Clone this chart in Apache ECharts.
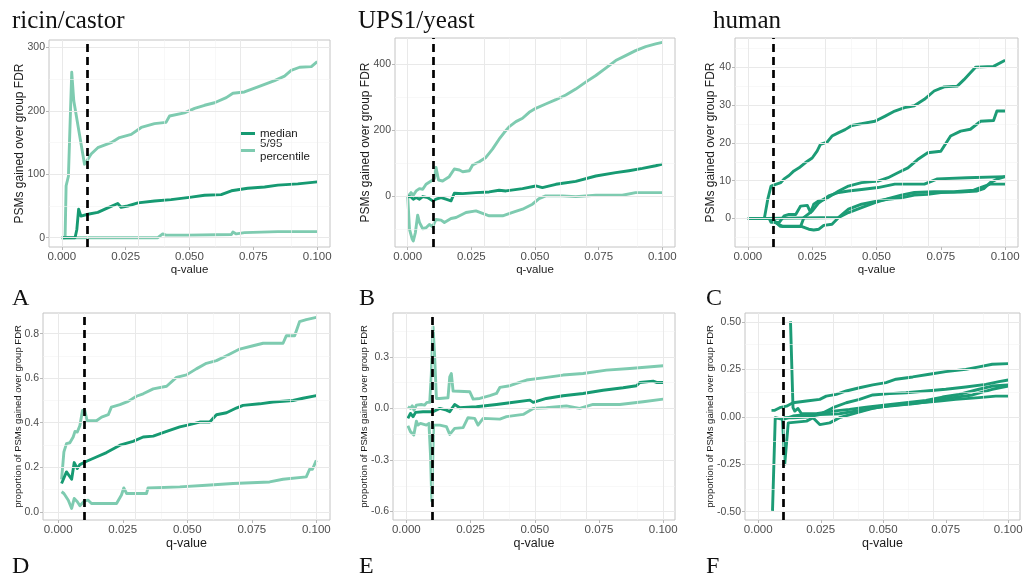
<!DOCTYPE html>
<html>
<head>
<meta charset="utf-8">
<script src="https://cdn.jsdelivr.net/npm/echarts@6/dist/echarts.min.js"></script>
<style>
  html, body { margin: 0; padding: 0; background: #fff; }
  #chart { width: 1025px; height: 578px; }
</style>
</head>
<body>
<div id="chart"></div>
<script>
// ---- axis ticks ----
const qTicks = [0, 0.025, 0.05, 0.075, 0.1];
const qMinor = [0.0125, 0.0375, 0.0625, 0.0875];
const ricinCountTicks = [0, 100, 200, 300];
const ricinCountMinor = [50, 150, 250];
const upsCountTicks = [0, 200, 400];
const upsCountMinor = [-100, 100, 300];
const humanCountTicks = [0, 10, 20, 30, 40];
const humanCountMinor = [-5, 5, 15, 25, 35, 45];
const ricinPropTicks = [0, 0.2, 0.4, 0.6, 0.8];
const ricinPropMinor = [0.1, 0.3, 0.5, 0.7];
const upsPropTicks = [-0.6, -0.3, 0, 0.3];
const upsPropMinor = [-0.45, -0.15, 0.15, 0.45];
const humanPropTicks = [-0.5, -0.25, 0, 0.25, 0.5];
const humanPropMinor = [-0.375, -0.125, 0.125, 0.375];
const fdrCutoff = 0.01;

// ---- A: ricin/castor, PSMs gained ----
const ricinP95 = [[0,0],[0.0013,0],[0.0017,82],[0.0026,97],[0.0039,261],[0.0047,216],[0.0089,116],[0.0098,121],[0.0115,132],[0.0141,142],[0.0193,150],[0.0226,158],[0.0272,163],[0.0311,174],[0.0363,180],[0.0408,182],[0.0422,192],[0.048,197],[0.052,204],[0.0559,209],[0.0598,213],[0.0644,221],[0.067,228],[0.0715,230],[0.0768,238],[0.0833,248],[0.0872,255],[0.0898,264],[0.0931,269],[0.0977,270],[0.1,278]];
const ricinMedian = [[0,0],[0.0052,0],[0.0059,13],[0.0066,45],[0.0075,34],[0.0102,37],[0.0141,40],[0.018,47],[0.0219,54],[0.0232,48],[0.0258,50],[0.0298,55],[0.0363,58],[0.0428,60],[0.0507,64],[0.0559,67],[0.0624,68],[0.0664,74],[0.0728,78],[0.0794,80],[0.0846,83],[0.0924,85],[0.1,88]];
const ricinP5 = [[0,0],[0.0376,0],[0.0395,6],[0.0408,4],[0.0493,4],[0.0664,5],[0.067,9],[0.0683,6],[0.0715,8],[0.0846,9.5],[0.1,9.5]];

// ---- B: UPS1/yeast, PSMs gained ----
const upsP95 = [[0,0],[0.0013,12],[0.0022,4],[0.0033,17],[0.0046,24],[0.0059,22],[0.0072,37],[0.0092,47],[0.0105,54],[0.0111,88],[0.0121,50],[0.0137,47],[0.0163,60],[0.0183,83],[0.0203,80],[0.0216,75],[0.0242,78],[0.0255,95],[0.0281,105],[0.0307,118],[0.0333,143],[0.0359,173],[0.0379,193],[0.0399,211],[0.0425,226],[0.0451,236],[0.0477,254],[0.0503,266],[0.0542,279],[0.0582,292],[0.0621,306],[0.066,324],[0.0699,345],[0.0739,365],[0.0778,387],[0.0817,410],[0.0856,425],[0.0895,440],[0.0935,452],[0.0974,460],[0.1,465]];
const upsMedian = [[0,0],[0.0013,-1],[0.0022,-8],[0.0033,-3],[0.0046,-8],[0.0059,0],[0.0078,-3],[0.0098,-13],[0.0111,-8],[0.0131,-3],[0.015,-8],[0.017,-13],[0.0183,10],[0.0216,9],[0.0268,12],[0.032,14],[0.0359,19],[0.0386,17],[0.0451,24],[0.0503,32],[0.0529,27],[0.0582,37],[0.066,46],[0.0739,62],[0.0817,72],[0.0869,78],[0.0922,85],[0.0974,93],[0.1,98]];
const upsP5 = [[0,0],[0.0007,-99],[0.0017,-127],[0.0022,-134],[0.003,-109],[0.0039,-56],[0.0046,-78],[0.0059,-97],[0.0072,-94],[0.0085,-84],[0.0098,-91],[0.0111,-69],[0.0131,-71],[0.0144,-78],[0.017,-66],[0.019,-63],[0.0229,-48],[0.0268,-43],[0.032,-58],[0.0373,-58],[0.0412,-48],[0.0451,-38],[0.049,-23],[0.0516,-6],[0.0542,2],[0.0608,2],[0.066,0],[0.0739,4],[0.0843,4],[0.0895,12],[0.1,12]];

// ---- C: human, PSMs gained (one line per run) ----
const humanRun1 = [[0,0],[0.0064,0],[0.0077,5],[0.009,8.6],[0.0103,8.9],[0.0128,9.5],[0.0141,10.5],[0.016,11.4],[0.0179,12.6],[0.0199,13.4],[0.0224,14.8],[0.025,16],[0.0269,17.8],[0.0282,19.6],[0.0308,20.2],[0.0327,21.8],[0.0353,22.7],[0.0378,23.5],[0.0404,24.6],[0.0442,25.1],[0.0494,25.7],[0.0532,27],[0.0571,28.4],[0.0609,29.3],[0.0647,29.8],[0.0686,31.5],[0.0724,33.7],[0.0763,34.8],[0.0814,35],[0.084,36.7],[0.0865,38.5],[0.0885,40],[0.0955,40.2],[0.1,41.8]];
const humanRun2 = [[0,0],[0.0083,0],[0.009,-1],[0.0122,-1],[0.0141,0.7],[0.016,1.1],[0.0186,1.1],[0.0205,3.3],[0.0231,3.5],[0.0244,1.6],[0.0256,3.8],[0.0276,4.7],[0.0301,5.1],[0.0327,6.2],[0.0353,7.3],[0.0391,8.6],[0.0442,9.5],[0.0506,9.9],[0.0545,10.8],[0.0583,12.1],[0.0622,13.4],[0.066,15.6],[0.0699,17.4],[0.075,17.8],[0.0788,21.8],[0.0827,23.1],[0.0865,23.6],[0.0904,25.7],[0.0955,25.9],[0.0968,28.4],[0.1,28.4]];
const humanRun3 = [[0,0],[0.009,0],[0.0096,-0.6],[0.0135,-2.1],[0.0205,-2.1],[0.0218,0.3],[0.025,2],[0.0276,4.2],[0.0314,6],[0.0353,6.9],[0.0391,7.3],[0.0442,7.7],[0.0506,8.2],[0.0571,9.1],[0.0686,9.1],[0.0737,10.5],[0.0853,10.8],[0.1,11.1]];
const humanRun4 = [[0,0],[0.0095,0],[0.0103,-0.6],[0.0125,-2],[0.0205,-2],[0.0237,-2.8],[0.0256,-3],[0.0276,-2.8],[0.0295,-1.8],[0.0327,-1.5],[0.0353,0.3],[0.0391,1.6],[0.0442,2.9],[0.0494,4.2],[0.0545,5.3],[0.0596,6.2],[0.0647,6.9],[0.0724,7.1],[0.0801,7.1],[0.0878,7.5],[0.0904,8.2],[0.0942,9.1],[0.1,9.1]];
const humanRun5 = [[0,0],[0.0353,0.3],[0.0391,2.5],[0.0442,3.8],[0.0506,4.7],[0.0545,5.1],[0.0596,5.5],[0.0647,6.2],[0.0699,6.4],[0.075,6.9],[0.0827,7],[0.0891,7.3],[0.0917,7.9],[0.0942,9.5],[0.0968,10.4],[0.1,11.1]];

// ---- D: ricin/castor, proportion gained ----
const ricinPropP95 = [[0.0013,0.146],[0.0022,0.269],[0.0032,0.306],[0.0045,0.31],[0.0058,0.336],[0.0065,0.361],[0.0074,0.358],[0.0084,0.388],[0.0094,0.455],[0.0103,0.455],[0.0112,0.409],[0.0148,0.409],[0.0168,0.425],[0.0194,0.436],[0.0206,0.47],[0.0239,0.481],[0.0271,0.496],[0.0303,0.519],[0.0329,0.53],[0.0368,0.552],[0.042,0.564],[0.0458,0.604],[0.0497,0.615],[0.0535,0.642],[0.0574,0.667],[0.0613,0.679],[0.0652,0.701],[0.0703,0.731],[0.0755,0.746],[0.0794,0.757],[0.0871,0.757],[0.0884,0.791],[0.0916,0.791],[0.0935,0.854],[0.0961,0.863],[0.1,0.873]];
const ricinPropMedian = [[0.0013,0.127],[0.0032,0.179],[0.0052,0.146],[0.0062,0.221],[0.0074,0.194],[0.0084,0.212],[0.011,0.227],[0.0148,0.246],[0.0187,0.266],[0.0239,0.299],[0.029,0.316],[0.0329,0.336],[0.0368,0.34],[0.042,0.361],[0.0471,0.381],[0.0497,0.388],[0.0548,0.403],[0.0587,0.403],[0.0613,0.436],[0.0652,0.445],[0.069,0.466],[0.0716,0.478],[0.0781,0.485],[0.0832,0.493],[0.091,0.5],[0.0948,0.51],[0.1,0.522]];
const ricinPropP5 = [[0.0013,0.09],[0.0022,0.082],[0.0039,0.052],[0.0052,0.015],[0.0062,0.06],[0.0074,0.045],[0.0084,0.027],[0.0101,0.048],[0.0116,0.052],[0.0129,0.037],[0.0226,0.037],[0.0245,0.075],[0.0254,0.107],[0.0265,0.082],[0.0342,0.082],[0.0348,0.107],[0.0471,0.112],[0.0574,0.119],[0.0677,0.127],[0.0819,0.134],[0.0871,0.146],[0.0961,0.157],[0.0974,0.191],[0.0985,0.191],[0.1,0.231]];

// ---- E: UPS1/yeast, proportion gained ----
const upsPropP95 = [[0.0006,0.01],[0.0016,0],[0.0023,0.015],[0.003,-0.01],[0.0039,0.019],[0.0058,0.023],[0.0071,0.019],[0.008,0.035],[0.0091,0.035],[0.0097,0.194],[0.0104,0.474],[0.011,0.31],[0.0117,0.058],[0.013,0.058],[0.0162,0.062],[0.0169,0.184],[0.0175,0.203],[0.0182,0.101],[0.0247,0.097],[0.026,0.054],[0.0286,0.058],[0.0325,0.074],[0.0351,0.087],[0.0364,0.122],[0.0403,0.132],[0.0429,0.145],[0.0468,0.165],[0.0532,0.178],[0.061,0.194],[0.0688,0.203],[0.0779,0.223],[0.087,0.232],[0.1,0.248]];
const upsPropMedian = [[0.0006,-0.058],[0.0016,-0.029],[0.0026,-0.048],[0.0036,-0.023],[0.0065,-0.019],[0.0091,-0.019],[0.0104,-0.019],[0.013,0],[0.0156,-0.01],[0.0169,-0.019],[0.0188,0.023],[0.0208,0.004],[0.0273,0.01],[0.0351,0.023],[0.0403,0.033],[0.0481,0.048],[0.0494,0.035],[0.0545,0.058],[0.061,0.074],[0.0688,0.087],[0.0766,0.106],[0.0844,0.12],[0.0896,0.132],[0.0909,0.151],[0.0961,0.159],[0.0974,0.151],[0.1,0.151]];
const upsPropP5 = [[0.0006,-0.101],[0.0016,-0.135],[0.0029,-0.155],[0.0039,-0.074],[0.0045,-0.097],[0.0055,-0.087],[0.0078,-0.097],[0.0088,-0.087],[0.0094,-0.271],[0.0099,-0.538],[0.0106,-0.097],[0.013,-0.097],[0.0156,-0.106],[0.0169,-0.151],[0.0188,-0.116],[0.0221,-0.112],[0.024,-0.054],[0.0266,-0.058],[0.0279,-0.097],[0.0299,-0.058],[0.0364,-0.062],[0.039,-0.048],[0.0455,-0.035],[0.0494,0],[0.0545,0.004],[0.0623,0.015],[0.0675,0],[0.0727,0.023],[0.0831,0.023],[0.0922,0.039],[0.1,0.054]];

// ---- F: human, proportion gained (one line per run) ----
const humanPropRun1 = [[0.0053,0.034],[0.0066,0.034],[0.0086,0.048],[0.0113,0.056],[0.0139,0.074],[0.0193,0.083],[0.0246,0.092],[0.0272,0.109],[0.0312,0.118],[0.0352,0.136],[0.0405,0.153],[0.0458,0.168],[0.0511,0.18],[0.0551,0.198],[0.0618,0.21],[0.0684,0.224],[0.075,0.238],[0.083,0.25],[0.0883,0.263],[0.0936,0.277],[0.1,0.28]];
const humanPropRun2 = [[0.0057,-0.496],[0.0068,-0.005],[0.01,-0.014],[0.0139,0.004],[0.0193,0.012],[0.0246,0.012],[0.0299,0.048],[0.0352,0.074],[0.0405,0.092],[0.0458,0.115],[0.0525,0.122],[0.0591,0.127],[0.0671,0.136],[0.075,0.145],[0.083,0.157],[0.091,0.171],[0.0963,0.185],[0.1,0.194]];
const humanPropRun3 = [[0.0129,0.503],[0.0139,0.048],[0.0146,0.03],[0.0159,0.044],[0.0173,0.016],[0.0232,0.016],[0.0299,0.03],[0.0365,0.039],[0.0432,0.051],[0.0511,0.062],[0.0591,0.074],[0.0671,0.086],[0.0737,0.104],[0.0803,0.118],[0.0883,0.145],[0.0936,0.162],[0.1,0.168]];
const humanPropRun4 = [[0.0097,-0.014],[0.0106,-0.249],[0.012,-0.032],[0.0193,-0.023],[0.0219,-0.005],[0.0246,-0.041],[0.0286,-0.032],[0.0325,-0.005],[0.0392,0.021],[0.0458,0.044],[0.0538,0.062],[0.0618,0.069],[0.0697,0.083],[0.0777,0.101],[0.0857,0.115],[0.0936,0.145],[0.1,0.162]];
const humanPropRun5 = [[0.01,-0.005],[0.0139,-0.005],[0.0193,-0.002],[0.0246,0.012],[0.0325,0.016],[0.0405,0.034],[0.0485,0.051],[0.0565,0.062],[0.0644,0.074],[0.0724,0.083],[0.079,0.092],[0.0883,0.101],[0.095,0.109],[0.1,0.109]];

// ---- styling ----
const darkGreen = '#169a72';
const lightGreen = '#7ecbb0';
const runGreen = '#1c9c76';
const sansFont = '"Liberation Sans", Arial, sans-serif';
const serifFont = '"Liberation Serif", "DejaVu Serif", serif';
const countLabel = 'PSMs gained over group FDR';
const propLabel = 'proportion of PSMs gained over group FDR';
const medianName = 'median';
const pctName = '5/95\npercentile';

function bands(p95, med, p5) {
  return [
    { name: pctName, data: p95, color: lightGreen },
    { name: pctName, data: p5, color: lightGreen },
    { name: medianName, data: med, color: darkGreen }
  ];
}
function runs(list) {
  return list.map((d, i) => ({ name: 'run ' + (i + 1), data: d, color: runGreen }));
}

const panels = [
  { box: { left: 49, top: 40, width: 281, height: 207 }, x: [-0.005, 0.105], y: [-14.7, 312],
    yTicks: ricinCountTicks, yMinor: ricinCountMinor, digits: 0, yName: countLabel, yNameSize: 12, yGap: 23, xNameSize: 11.5,
    lines: bands(ricinP95, ricinMedian, ricinP5) },
  { box: { left: 395, top: 38, width: 280, height: 209 }, x: [-0.005, 0.105], y: [-152, 478],
    yTicks: upsCountTicks, yMinor: upsCountMinor, digits: 0, yName: countLabel, yNameSize: 12, yGap: 23, xNameSize: 11.5,
    lines: bands(upsP95, upsMedian, upsP5) },
  { box: { left: 735, top: 38, width: 283, height: 209 }, x: [-0.005, 0.105], y: [-7.5, 47.7],
    yTicks: humanCountTicks, yMinor: humanCountMinor, digits: 0, yName: countLabel, yNameSize: 12, yGap: 18, xNameSize: 11.5,
    lines: runs([humanRun1, humanRun2, humanRun3, humanRun4, humanRun5]) },
  { box: { left: 43, top: 313, width: 287, height: 207 }, x: [-0.0059, 0.1053], y: [-0.037, 0.893],
    yTicks: ricinPropTicks, yMinor: ricinPropMinor, digits: 1, yName: propLabel, yNameSize: 9.5, yGap: 20, xNameSize: 12.5,
    lines: bands(ricinPropP95, ricinPropMedian, ricinPropP5) },
  { box: { left: 393, top: 313, width: 282, height: 207 }, x: [-0.0052, 0.1046], y: [-0.649, 0.555],
    yTicks: upsPropTicks, yMinor: upsPropMinor, digits: 1, yName: propLabel, yNameSize: 9.5, yGap: 24, xNameSize: 12.5,
    lines: bands(upsPropP95, upsPropMedian, upsPropP5) },
  { box: { left: 745, top: 313, width: 275, height: 207 }, x: [-0.0053, 0.1047], y: [-0.544, 0.547],
    yTicks: humanPropTicks, yMinor: humanPropMinor, digits: 2, yName: propLabel, yNameSize: 9.5, yGap: 30, xNameSize: 12.5,
    lines: runs([humanPropRun1, humanPropRun2, humanPropRun3, humanPropRun4, humanPropRun5]) }
];

const majorGrid = { color: '#e9e9e9', width: 1, type: 'solid' };
const minorGrid = { color: '#f4f4f4', width: 0.6, type: 'solid' };
const tickStyle = { color: '#b8b8b8', width: 1 };
const xLabelStyle = { color: '#4d4d4d', fontSize: 11.5, fontFamily: sansFont };
const yLabelStyle = { color: '#4d4d4d', fontSize: 10.5, fontFamily: sansFont };

const chart = echarts.init(document.getElementById('chart'), null, { renderer: 'canvas' });

const grids = [], xAxes = [], yAxes = [], series = [];
panels.forEach((p, i) => {
  grids.push(Object.assign({ show: true, borderColor: '#c4c4c4', borderWidth: 1, backgroundColor: '#fff', containLabel: false, outerBoundsMode: 'none' }, p.box));
  xAxes.push({
    type: 'value', gridIndex: i, min: p.x[0], max: p.x[1],
    name: 'q-value', nameLocation: 'middle', nameGap: i < 3 ? 14 : 15,
    nameTextStyle: { color: '#1a1a1a', fontSize: p.xNameSize, fontFamily: sansFont },
    axisLine: { show: false, onZero: false },
    axisTick: { show: true, length: 3, customValues: qTicks, lineStyle: tickStyle },
    axisLabel: Object.assign({ customValues: qTicks, margin: 4, formatter: v => v.toFixed(3) }, xLabelStyle),
    splitLine: { show: false }
  });
  yAxes.push({
    type: 'value', gridIndex: i, min: p.y[0], max: p.y[1],
    name: p.yName, nameLocation: 'middle', nameGap: p.yGap, nameMoveOverlap: false,
    nameTextStyle: { color: '#1a1a1a', fontSize: p.yNameSize, fontFamily: sansFont },
    axisLine: { show: false, onZero: false },
    axisTick: { show: true, length: 3, customValues: p.yTicks, lineStyle: tickStyle },
    axisLabel: Object.assign({ customValues: p.yTicks, margin: 4, formatter: v => v.toFixed(p.digits) }, yLabelStyle),
    splitLine: { show: false }
  });

  // background grid lines, from the tick arrays
  const gl = [];
  qMinor.forEach(v => gl.push({ xAxis: v, lineStyle: minorGrid }));
  p.yMinor.forEach(v => gl.push({ yAxis: v, lineStyle: minorGrid }));
  qTicks.forEach(v => gl.push({ xAxis: v, lineStyle: majorGrid }));
  p.yTicks.forEach(v => gl.push({ yAxis: v, lineStyle: majorGrid }));
  series.push({
    type: 'line', xAxisIndex: i, yAxisIndex: i, data: [], silent: true, z: 1,
    markLine: { symbol: 'none', silent: true, animation: false, label: { show: false }, data: gl }
  });

  p.lines.forEach(l => {
    series.push({
      type: 'line', name: l.name, xAxisIndex: i, yAxisIndex: i, data: l.data,
      showSymbol: false, symbol: 'none', z: 3,
      color: l.color,
      lineStyle: { color: l.color, width: 2.9, join: 'round' }
    });
  });

  // dashed cutoff at q = 0.01
  series.push({
    type: 'line', xAxisIndex: i, yAxisIndex: i, data: [], silent: true, z: 6,
    markLine: { symbol: 'none', silent: true, animation: false, label: { show: false },
      lineStyle: { color: '#000', width: 2.7, type: [8, 5] }, data: [{ xAxis: fdrCutoff }] }
  });
});

const titleText = { fontFamily: serifFont, fontSize: 25, fontWeight: 'normal', color: '#111' };
const letterText = { fontFamily: serifFont, fontSize: 24, fontWeight: 'normal', color: '#111' };

chart.setOption({
  animation: false,
  backgroundColor: '#fff',
  title: [
    { text: 'ricin/castor', left: 12, top: 9, padding: 0, textStyle: titleText },
    { text: 'UPS1/yeast', left: 358, top: 9, padding: 0, textStyle: titleText },
    { text: 'human', left: 713, top: 9, padding: 0, textStyle: titleText },
    { text: 'A', left: 12, top: 287, padding: 0, textStyle: letterText },
    { text: 'B', left: 359, top: 287, padding: 0, textStyle: letterText },
    { text: 'C', left: 706, top: 287, padding: 0, textStyle: letterText },
    { text: 'D', left: 12, top: 555, padding: 0, textStyle: letterText },
    { text: 'E', left: 359, top: 555, padding: 0, textStyle: letterText },
    { text: 'F', left: 706, top: 555, padding: 0, textStyle: letterText }
  ],
  legend: [
    { data: [medianName], left: 241, top: 127, padding: 0, selectedMode: false, icon: 'rect', itemWidth: 14, itemHeight: 3,
      itemGap: 0, textStyle: { fontSize: 11.5, fontFamily: sansFont, color: '#1a1a1a', lineHeight: 13 } },
    { data: [pctName], left: 241, top: 137, padding: 0, selectedMode: false, icon: 'rect', itemWidth: 14, itemHeight: 3,
      itemGap: 0, textStyle: { fontSize: 11.5, fontFamily: sansFont, color: '#1a1a1a', lineHeight: 13.5 } }
  ],
  grid: grids,
  xAxis: xAxes,
  yAxis: yAxes,
  series: series
});
</script>
</body>
</html>
